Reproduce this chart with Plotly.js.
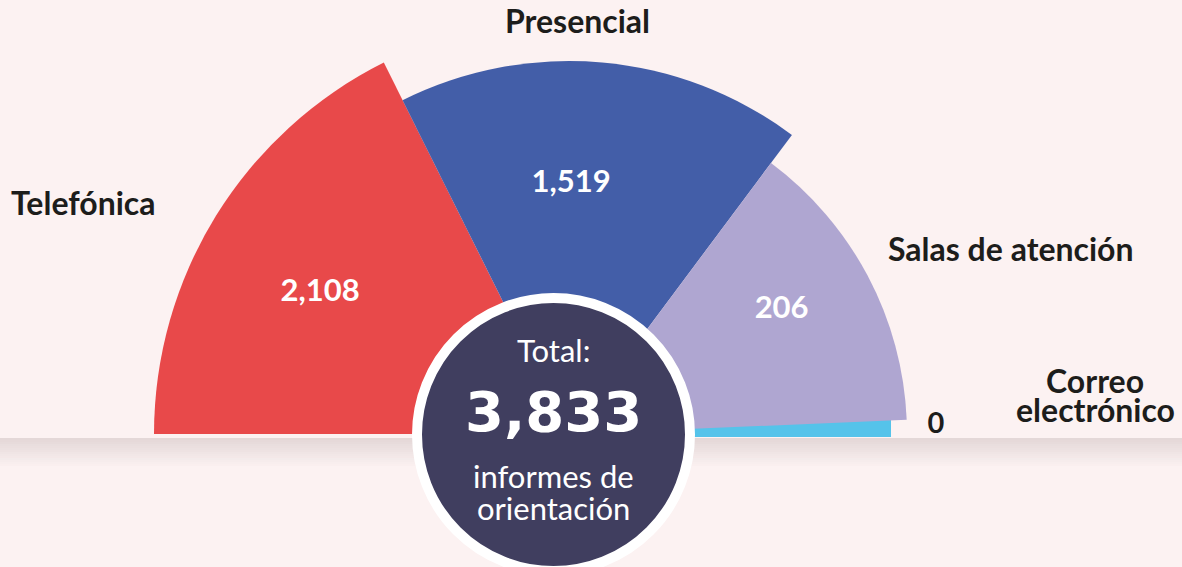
<!DOCTYPE html>
<html>
<head>
<meta charset="utf-8">
<script src="https://cdn.plot.ly/plotly-3.0.1.min.js"></script>
<style>
html,body{margin:0;padding:0;background:#FCF2F2;}
#chart{width:1182px;height:567px;}
</style>
</head>
<body>
<div id="chart"></div>
<script>
// ---- data ----
var categories = ["Telefónica", "Presencial", "Salas de atención", "Correo<br>electrónico"];
var values = [2108, 1519, 206, 0];
var total = 3833;
var totalLabel = "Total:";
var totalCaption = ["informes de", "orientación"];

// ---- design geometry (not data) ----
var sectorCenter = [148.25, 84.9, 27.85];
var sectorSpan = [63.5, 63.2, 50.9];
var sectorRadius = [415, 373, 338, 322];
var labelRadius = [286, 250, 246, 367];
var labelTheta = [150.5, 89.5, 30.2, 1.3];
var colors = ["#E8494A", "#435EA8", "#AFA6D1", "#55C3EA"];

var W = 1182, H = 567;
function px(x){ return x / W; }
function py(y){ return 1 - y / H; }

var poleX = 569, poleY = 434, R = 417;
var FONT = "Lato";
var INK = "#1D1D1B";

var traces = [{
  // the zero-value channel: a thin strip along the base line
  type: "bar", orientation: "h", xaxis: "x", yaxis: "y",
  x: [sectorRadius[3]], y: [6.5], width: [19],
  marker: {color: colors[3], line: {width: 0}},
  hoverinfo: "skip", showlegend: false
}, {
  type: "barpolar",
  r: sectorRadius.slice(0, 3),
  theta: sectorCenter,
  width: sectorSpan,
  marker: {color: colors.slice(0, 3), line: {width: 0}},
  hoverinfo: "skip",
  showlegend: false
}, {
  type: "scatterpolar",
  mode: "text",
  r: labelRadius,
  theta: labelTheta,
  text: values.map(function(v){ return v.toLocaleString("en-US"); }),
  textfont: {family: FONT, size: [31, 31, 31, 29], color: ["#FFFFFF", "#FFFFFF", "#FFFFFF", INK], weight: 700},
  cliponaxis: false,
  hoverinfo: "skip",
  showlegend: false
}];

var shapes = [];
// shadow band
var bandTop = 438, bandSteps = 14;
for (var i = 0; i < bandSteps; i++) {
  shapes.push({
    type: "rect", xref: "paper", yref: "paper", layer: "above",
    x0: 0, x1: 1, y0: py(bandTop + i * 2 + 2), y1: py(bandTop + i * 2),
    fillcolor: "#DCCFCF", opacity: 0.75 * (1 - i / bandSteps), line: {width: 0}
  });
}
// center circle
var cx = 553.5, cy = 434.5, cr = 136.5;
shapes.push({
  type: "circle", xref: "paper", yref: "paper", layer: "above",
  x0: px(cx - cr), x1: px(cx + cr), y0: py(cy + cr), y1: py(cy - cr),
  fillcolor: "#403E5F", line: {color: "#FFFFFF", width: 10}
});

function ann(x, y, text, size, color, weight, family){
  return {
    xref: "paper", yref: "paper", x: px(x), y: py(y),
    xanchor: "center", yanchor: "middle", showarrow: false,
    text: text, align: "center",
    font: {family: family || FONT, size: size, color: color, weight: weight}
  };
}

var catPos = [[[83.5, 202]], [[577.5, 21]], [[1011, 248]], [[1095, 380], [1095, 409]]];
var annotations = [];
categories.forEach(function(c, i){
  c.split("<br>").forEach(function(line, j){
    annotations.push(ann(catPos[i][j][0], catPos[i][j][1], line, 32, INK, 700));
  });
});
annotations.push(ann(cx, 350, totalLabel, 31, "#FFFFFF", 400));
annotations.push(ann(cx, 411, total.toLocaleString("en-US"), 56, "#FFFFFF", 700, "DejaVu Sans"));
annotations.push(ann(cx, 476, totalCaption[0], 31, "#FFFFFF", 400));
annotations.push(ann(cx, 508, totalCaption[1], 31, "#FFFFFF", 400));

var layout = {
  width: W, height: H,
  margin: {l: 0, r: 0, t: 0, b: 0},
  paper_bgcolor: "#FCF2F2",
  plot_bgcolor: "rgba(0,0,0,0)",
  showlegend: false,
  xaxis: {domain: [0, 1], range: [-poleX, W - poleX], visible: false, fixedrange: true},
  yaxis: {domain: [0, 1], range: [-(H - poleY), poleY], visible: false, fixedrange: true},
  polar: {
    domain: {x: [px(poleX - R), px(poleX + R)], y: [py(poleY), py(poleY - R)]},
    sector: [0, 180],
    bgcolor: "rgba(0,0,0,0)",
    radialaxis: {visible: false, range: [0, R]},
    angularaxis: {visible: false, direction: "counterclockwise", rotation: 0}
  },
  shapes: shapes,
  annotations: annotations
};

Plotly.newPlot("chart", traces, layout, {displayModeBar: false, staticPlot: true});
</script>
</body>
</html>
